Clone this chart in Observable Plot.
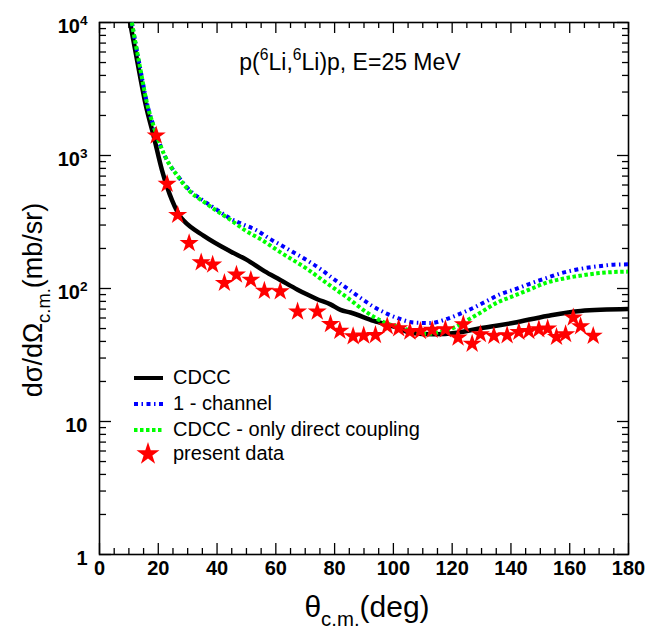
<!DOCTYPE html>
<html><head><meta charset="utf-8">
<script src="https://cdn.jsdelivr.net/npm/d3@7"></script>
<script src="https://cdn.jsdelivr.net/npm/@observablehq/plot@0.6"></script>
<style>
body{margin:0;background:#fff;}
svg{font-family:"Liberation Sans",Arial,Helvetica,sans-serif;}
</style>
</head><body><div id="chart"></div>
<script>
// ---- data (theta_cm in deg, dsigma/dOmega in mb/sr) ----
const cdcc = [
  [10.4,10000],[13.4,4400],[15.65,2450],[18.5,1380],[21.3,770],[24.7,460],[27.6,345],
  [28.7,323],[35.5,249],[44.6,190],[50.0,165],[56.1,135],[61.5,116],[67.4,98],[70.7,90],
  [74.1,83],[78.6,76],[82.0,69],[85.4,66],[93.3,57],[101.3,50.8],[105.8,46.5],[113.7,45.2],
  [121.7,46.5],[129.6,50.2],[141.0,55.3],[152.3,62.2],[163.7,67.8],[180,70]
];
const oneChannel = [
  [11.0,10000],[13.95,4400],[16.2,2450],[18.5,1640],[21.9,1030],[27.0,685],[31.0,540],
  [35.5,455],[40.0,390],[44.6,335],[48.6,305],[53.7,272],[57.6,239],[62.7,206],[66.7,183],
  [71.8,157],[75.2,140],[79.2,120],[84.3,100],[88.8,85],[92.8,74],[97.9,64.5],[101.8,59.5],
  [106.9,55.5],[112.6,55],[117.7,58.5],[122.8,64.7],[127.4,71.8],[131.9,80.7],[136.4,90.6],
  [141.5,98.8],[146.6,109],[151.2,118],[156.9,130],[162.5,139],[168.2,145.5],[175.0,151],[180,152]
];
const directOnly = [
  [11.0,10000],[13.95,4400],[16.2,2450],[18.5,1640],[21.9,1030],[27.0,680],[31.0,530],
  [35.5,448],[40.0,382],[44.6,328],[49.7,272],[54.8,235],[61.6,187],[70.7,140],[77.5,109],
  [84.3,85.4],[91.1,65.8],[97.9,54.5],[102.4,51],[106.9,47.3],[111.5,45.7],[116.0,47.1],
  [120.6,50.8],[125.1,57.7],[129.6,65.8],[135.3,78.3],[141.0,88],[146.6,98.8],[152.3,111],
  [158.0,119],[163.7,125],[169.3,130],[175.0,133],[180,134]
];
const presentData = [
  [19.3,1413],[23.0,611],[26.6,357],[30.5,219],[34.6,157],[38.5,151],[42.5,110],[46.6,127],
  [51.5,116],[56.1,96],[61.5,95],[67.4,67],[74.1,67],[78.6,54],[81.8,48],[86.3,43.7],
  [89.9,44.2],[93.9,44.7],[97.9,52],[101.8,50.2],[105.6,47.3],[109.2,47.9],[113.2,48.8],
  [117.7,49.3],[122.0,42.7],[123.8,53.8],[126.8,38.4],[129.6,45.3],[134.2,44],[138.7,44.5],
  [142.7,47.1],[146.1,47.9],[149.5,49.3],[152.5,49.9],[155.5,43.2],[158.6,45.3],[161.2,60.4],
  [163.7,52],[168.0,44]
];
const xMajorTicks = [0,20,40,60,80,100,120,140,160,180];
const xMinorTicks = d3.range(0,181,5).filter(v => v % 20 !== 0);
const yMajorTicks = [1,10,100,1000,10000];
const yTickLabels = ["1","10","10^{2}","10^{3}","10^{4}"];
const yMinorTicks = [1,10,100,1000].flatMap(b => d3.range(2,10).map(k => k*b));
const legendNames = ["CDCC","1 - channel","CDCC - only direct coupling","present data"];
const seriesColors = ["#000000","#0000ff","#00ff00","#ff0000"];
const xTitle = "θ_{c.m.}(deg)";
const yTitle = "dσ/dΩ_{c.m.}(mb/sr)";
const annotation = "p(^{6}Li,^{6}Li)p, E=25 MeV";

// ---- layout ----
const W = 666, H = 630, mL = 99, mR = 38, mT = 22, mB = 76;
const pW = W - mL - mR, pH = H - mT - mB;
const dashBlue = "4,3.5,1.5,3.5", dashGreen = "3.5,2.5";
const dashes = [null, dashBlue, dashGreen];

const lineOpts = {x: d => d[0], y: d => d[1], strokeWidth: 4, curve: "monotone-x", clip: true, strokeLinecap: "butt"};

const svg = Plot.plot({
  width: W, height: H,
  marginLeft: mL, marginRight: mR, marginTop: mT, marginBottom: mB,
  x: {domain: [0,180], axis: null},
  y: {type: "log", domain: [1,10000], axis: null},
  style: {fontFamily: "'Liberation Sans', Arial, Helvetica, sans-serif", background: "#fff"},
  marks: [
    // inward ticks
    Plot.tickX(xMajorTicks, {x: d => d, insetTop: pH - 11, stroke: "#000", strokeWidth: 1.3}),
    Plot.tickX(xMinorTicks, {x: d => d, insetTop: pH - 6, stroke: "#000", strokeWidth: 1.3}),
    Plot.tickX(xMajorTicks, {x: d => d, insetBottom: pH - 11, stroke: "#000", strokeWidth: 1.3}),
    Plot.tickX(xMinorTicks, {x: d => d, insetBottom: pH - 6, stroke: "#000", strokeWidth: 1.3}),
    Plot.tickY(yMajorTicks, {y: d => d, insetRight: pW - 12, stroke: "#000", strokeWidth: 1.3}),
    Plot.tickY(yMinorTicks, {y: d => d, insetRight: pW - 7, stroke: "#000", strokeWidth: 1.3}),
    Plot.tickY(yMajorTicks, {y: d => d, insetLeft: pW - 11, stroke: "#000", strokeWidth: 1.3}),
    Plot.tickY(yMinorTicks, {y: d => d, insetLeft: pW - 6, stroke: "#000", strokeWidth: 1.3}),
    Plot.frame({stroke: "#000", strokeWidth: 1.6}),
    // curves
    Plot.line(cdcc, {...lineOpts, stroke: seriesColors[0], strokeWidth: 4.5}),
    Plot.line(oneChannel, {...lineOpts, stroke: seriesColors[1], strokeDasharray: dashBlue}),
    Plot.line(directOnly, {...lineOpts, stroke: seriesColors[2], strokeDasharray: dashGreen}),
    Plot.dot(presentData, {x: d => d[0], y: d => d[1], symbol: "star", r: 6, fill: seriesColors[3], stroke: "none"}),
    // tick labels
    Plot.text(xMajorTicks, {x: d => d, frameAnchor: "bottom", dy: 14, lineAnchor: "middle",
      text: d => String(d), fontSize: 20, fontWeight: "bold", fill: "#000"}),
    Plot.text(yMajorTicks, {y: d => d, frameAnchor: "left", dx: -12, dy: 4, textAnchor: "end", lineAnchor: "middle",
      text: (d, i) => yTickLabels[i], fontSize: 20, fontWeight: "bold", fill: "#000"})
  ]
});

// rich text: ^{..} superscript, _{..} subscript
function rich(sel, str, size) {
  const re = /(\^|_)\{([^}]*)\}/g;
  const parts = []; let last = 0, m;
  while ((m = re.exec(str))) {
    if (m.index > last) parts.push({t: str.slice(last, m.index), k: "n"});
    parts.push({t: m[2], k: m[1] === "^" ? "sup" : "sub"});
    last = re.lastIndex;
  }
  if (last < str.length) parts.push({t: str.slice(last), k: "n"});
  sel.text(null);
  let cur = 0;
  for (const p of parts) {
    const target = p.k === "sup" ? -0.42 * size : p.k === "sub" ? 0.3 * size : 0;
    const ts = sel.append("tspan").text(p.t);
    if (target - cur !== 0) ts.attr("dy", target - cur);
    if (p.k !== "n") ts.attr("font-size", size * 0.68);
    cur = target;
  }
}

const root = d3.select(svg);
root.selectAll("text").each(function() {
  const t = this.textContent;
  if (/[\^_]\{/.test(t)) rich(d3.select(this), t, 20);
});

// axis titles
const xt = root.append("text").attr("x", 367).attr("y", 617)
  .attr("text-anchor", "middle").attr("font-size", 30).attr("fill", "#000");
rich(xt, xTitle, 30);
const yt = root.append("text").attr("transform", `translate(42,300) rotate(-90)`)
  .attr("text-anchor", "middle").attr("font-size", 27).attr("fill", "#000");
rich(yt, yTitle, 27);

// annotation
const an = root.append("text").attr("x", 350).attr("y", 70)
  .attr("text-anchor", "middle").attr("font-size", 23).attr("fill", "#000");
rich(an, annotation, 23);

// legend
const lg = root.append("g").attr("font-size", 20).attr("fill", "#000").attr("text-anchor", "start");
const rowBase = [384, 410, 436, 460];
legendNames.forEach((name, i) => {
  const yb = rowBase[i], yc = yb - 6;
  if (i < 3) {
    const ln = lg.append("line").attr("x1", 134).attr("x2", 163).attr("y1", yc).attr("y2", yc)
      .attr("stroke", seriesColors[i]).attr("stroke-width", 4);
    if (dashes[i]) ln.attr("stroke-dasharray", dashes[i]);
  } else {
    lg.append("path").attr("d", d3.symbol(d3.symbolStar, 164)()).attr("transform", `translate(148,${yc})`)
      .attr("fill", seriesColors[3]);
  }
  lg.append("text").attr("x", 173).attr("y", yb).attr("text-anchor", "start").text(name);
});

document.getElementById("chart").appendChild(svg);
</script>
</body></html>
